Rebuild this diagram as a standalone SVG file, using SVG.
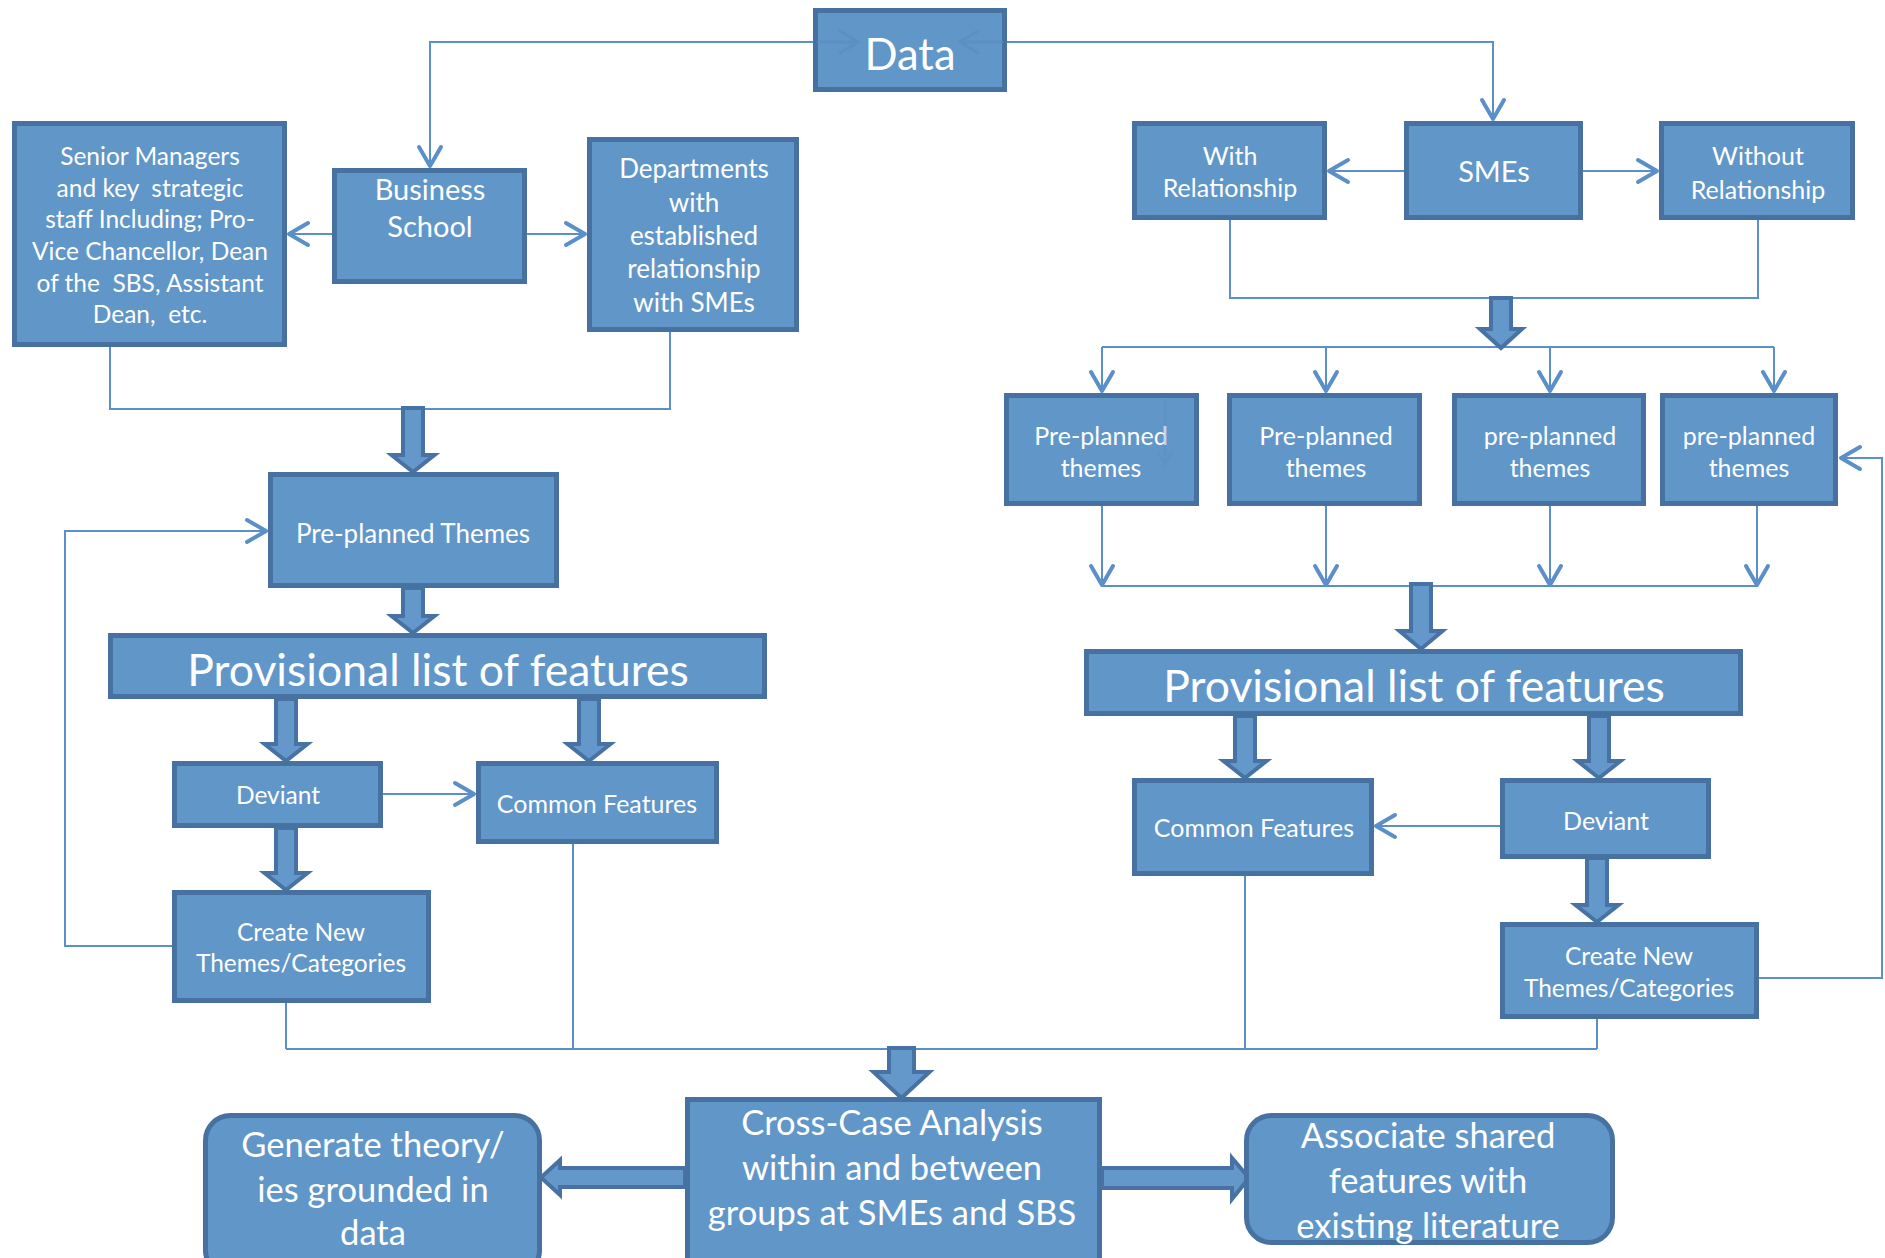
<svg xmlns="http://www.w3.org/2000/svg" width="1885" height="1258" viewBox="0 0 1885 1258">
<defs>
<style>
.box{fill:#6196C9;stroke:#4771A0;stroke-width:5}
.t{fill:#ffffff;font-family:Lato,"Open Sans","Liberation Sans",sans-serif;text-anchor:middle;white-space:pre}
.s24{font-size:24.5px}
.s25{font-size:25px}
.s26{font-size:26px}
.s29{font-size:29px}
.s34{font-size:34.5px}
.s43{font-size:43.5px}
.s44{font-size:44.5px}
.ln{fill:none;stroke:#5B8FC9;stroke-width:2}
.ba{fill:#6498CB;stroke:#4872A3;stroke-width:4;stroke-linejoin:miter}
.faint{fill:none;stroke:#5A8CC0;stroke-width:3;opacity:0.55;stroke-linecap:round}
</style>
<marker id="arr" viewBox="-24 -14 28 28" markerWidth="28" markerHeight="28" refX="0" refY="0" orient="auto" markerUnits="userSpaceOnUse">
<path d="M-19,-11 L0,0 L-19,11" fill="none" stroke="#5B8FC9" stroke-width="4" stroke-linecap="round" stroke-linejoin="round"/>
</marker>
</defs>
<rect width="1885" height="1258" fill="#ffffff"/>

<g id="connectors">
<path class="ln" d="M813,42 H430 V166" marker-end="url(#arr)"/>
<path class="ln" d="M1007,42 H1493 V119" marker-end="url(#arr)"/>
<path class="ln" d="M332,234 H289" marker-end="url(#arr)"/>
<path class="ln" d="M527,234 H585" marker-end="url(#arr)"/>
<path class="ln" d="M1404,171 H1329" marker-end="url(#arr)"/>
<path class="ln" d="M1583,171 H1657" marker-end="url(#arr)"/>
<path class="ln" d="M110,347 V409 H670 V332"/>
<path class="ln" d="M1230,220 V298 H1758 V220"/>
<path class="ln" d="M1102,347 H1774"/>
<path class="ln" d="M1102,347 V391" marker-end="url(#arr)"/>
<path class="ln" d="M1326,347 V391" marker-end="url(#arr)"/>
<path class="ln" d="M1550,347 V391" marker-end="url(#arr)"/>
<path class="ln" d="M1774,347 V391" marker-end="url(#arr)"/>
<path class="ln" d="M1102,506 V585" marker-end="url(#arr)"/>
<path class="ln" d="M1326,506 V585" marker-end="url(#arr)"/>
<path class="ln" d="M1550,506 V585" marker-end="url(#arr)"/>
<path class="ln" d="M1757,506 V585" marker-end="url(#arr)"/>
<path class="ln" d="M1102,586 H1757"/>
<path class="ln" d="M1500,826 H1376" marker-end="url(#arr)"/>
<path class="ln" d="M1759,978 H1882 V458 H1841" marker-end="url(#arr)"/>
<path class="ln" d="M383,794 H474" marker-end="url(#arr)"/>
<path class="ln" d="M172,946 H65 V531 H266" marker-end="url(#arr)"/>
<path class="ln" d="M286,1003 V1049"/>
<path class="ln" d="M573,844 V1049"/>
<path class="ln" d="M1245,876 V1049"/>
<path class="ln" d="M1597,1019 V1049"/>
<path class="ln" d="M286,1049 H1597"/>
<!-- block arrows -->
<polygon class="ba" points="403,408 423,408 423,455 434.5,455 413,472 391.5,455 403,455"/>
<polygon class="ba" points="403,588 423,588 423,616 434.5,616 413,633 391.5,616 403,616"/>
<polygon class="ba" points="276,699 296,699 296,744 307.5,744 286,761 264.5,744 276,744"/>
<polygon class="ba" points="579,699 599,699 599,744 610.5,744 589,761 567.5,744 579,744"/>
<polygon class="ba" points="276,828 296,828 296,873 307.5,873 286,890 264.5,873 276,873"/>
<polygon class="ba" points="1491,298 1511,298 1511,329 1522,329 1501,348 1480,329 1491,329"/>
<polygon class="ba" points="1411,584 1431,584 1431,631 1442.5,631 1421,649 1399.5,631 1411,631"/>
<polygon class="ba" points="1235,716 1255,716 1255,761 1266.5,761 1245,778 1223.5,761 1235,761"/>
<polygon class="ba" points="1589,716 1609,716 1609,761 1620.5,761 1599,778 1577.5,761 1589,761"/>
<polygon class="ba" points="1587,858 1607,858 1607,905 1618.5,905 1597,922 1575.5,905 1587,905"/>
<polygon class="ba" points="889,1048 914,1048 914,1072 929.5,1072 901.5,1098 873.5,1072 889,1072"/>
<polygon class="ba" points="685,1168 560,1168 560,1160 541,1177.5 560,1195 560,1187 685,1187"/>
<polygon class="ba" points="1102,1168 1232,1168 1232,1158 1249,1178 1232,1199 1232,1188 1102,1188"/>
</g>

<g id="data">
<rect class="box" x="815.5" y="10.5" width="189" height="79"/>
<path class="faint" d="M818,42 H858 M840,31 L858,42 L840,53"/>
<path class="faint" d="M1002,42 H960 M978,31 L960,42 L978,53"/>
<text class="t s43" x="910" y="70">Data</text>
</g>

<g id="senior-managers">
<rect class="box" x="14.5" y="123.5" width="270" height="221"/>
<text class="t s24" x="150" y="165">Senior Managers</text>
<text class="t s24" x="150" y="197">and key  strategic</text>
<text class="t s24" x="150" y="228">staff Including; Pro-</text>
<text class="t s24" x="150" y="260">Vice Chancellor, Dean</text>
<text class="t s24" x="150" y="292">of the  SBS, Assistant</text>
<text class="t s24" x="150" y="323">Dean,  etc.</text>
</g>

<g id="business-school">
<rect class="box" x="334.5" y="170.5" width="190" height="111"/>
<text class="t s29" x="430" y="200">Business</text>
<text class="t s29" x="430" y="237">School</text>
</g>

<g id="departments">
<rect class="box" x="589.5" y="139.5" width="207" height="190"/>
<text class="t s26" x="694" y="178">Departments</text>
<text class="t s26" x="694" y="212">with</text>
<text class="t s26" x="694" y="245">established</text>
<text class="t s26" x="694" y="278">relationship</text>
<text class="t s26" x="694" y="312">with SMEs</text>
</g>

<g id="with-relationship">
<rect class="box" x="1134.5" y="123.5" width="190" height="94"/>
<text class="t s25" x="1230" y="165">With</text>
<text class="t s25" x="1230" y="197">Relationship</text>
</g>

<g id="smes">
<rect class="box" x="1406.5" y="123.5" width="174" height="94"/>
<text class="t s29" x="1494" y="182">SMEs</text>
</g>

<g id="without-relationship">
<rect class="box" x="1661.5" y="123.5" width="191" height="94"/>
<text class="t s25" x="1758" y="165">Without</text>
<text class="t s25" x="1758" y="199">Relationship</text>
</g>

<g id="themes-1">
<rect class="box" x="1006.5" y="395.5" width="190" height="108"/>
<text class="t s25" x="1101" y="445">Pre-planned</text>
<text class="t s25" x="1101" y="477">themes</text>
<path class="faint" d="M1165,400 V465 M1158,452 L1165,465 L1172,452" style="opacity:0.35;stroke-width:2"/>
</g>

<g id="themes-2">
<rect class="box" x="1229.5" y="395.5" width="190" height="108"/>
<text class="t s25" x="1326" y="445">Pre-planned</text>
<text class="t s25" x="1326" y="477">themes</text>
</g>

<g id="themes-3">
<rect class="box" x="1454.5" y="395.5" width="189" height="108"/>
<text class="t s25" x="1550" y="445">pre-planned</text>
<text class="t s25" x="1550" y="477">themes</text>
</g>

<g id="themes-4">
<rect class="box" x="1662.5" y="395.5" width="173" height="108"/>
<text class="t s25" x="1749" y="445">pre-planned</text>
<text class="t s25" x="1749" y="477">themes</text>
</g>

<g id="provisional-right">
<rect class="box" x="1086.5" y="651.5" width="654" height="62"/>
<text class="t s44" x="1414" y="702">Provisional list of features</text>
</g>

<g id="common-right">
<rect class="box" x="1134.5" y="780.5" width="237" height="93"/>
<text class="t s25" x="1254" y="837">Common Features</text>
</g>

<g id="deviant-right">
<rect class="box" x="1502.5" y="780.5" width="206" height="76"/>
<text class="t s25" x="1606" y="830">Deviant</text>
</g>

<g id="create-right">
<rect class="box" x="1502.5" y="924.5" width="254" height="92"/>
<text class="t s24" x="1629" y="965">Create New</text>
<text class="t s24" x="1629" y="997">Themes/Categories</text>
</g>

<g id="preplanned-left">
<rect class="box" x="270.5" y="474.5" width="286" height="111"/>
<text class="t s26" x="413" y="543">Pre-planned Themes</text>
</g>

<g id="provisional-left">
<rect class="box" x="110.5" y="635.5" width="654" height="61"/>
<text class="t s44" x="438" y="686">Provisional list of features</text>
</g>

<g id="deviant-left">
<rect class="box" x="174.5" y="763.5" width="206" height="62"/>
<text class="t s24" x="278" y="804">Deviant</text>
</g>

<g id="common-left">
<rect class="box" x="478.5" y="763.5" width="238" height="78"/>
<text class="t s25" x="597" y="813">Common Features</text>
</g>

<g id="create-left">
<rect class="box" x="174.5" y="892.5" width="254" height="108"/>
<text class="t s24" x="301" y="941">Create New</text>
<text class="t s24" x="301" y="972">Themes/Categories</text>
</g>

<g id="cross-case">
<rect class="box" x="687.5" y="1099.5" width="412" height="170"/>
<text class="t s34" x="892" y="1135">Cross-Case Analysis</text>
<text class="t s34" x="892" y="1180">within and between</text>
<text class="t s34" x="892" y="1225">groups at SMEs and SBS</text>
</g>

<g id="generate-theory">
<rect class="box" x="205.5" y="1115.5" width="334" height="160" rx="25"/>
<text class="t s34" x="373" y="1157">Generate theory/</text>
<text class="t s34" x="373" y="1202">ies grounded in</text>
<text class="t s34" x="373" y="1245">data</text>
</g>

<g id="associate">
<rect class="box" x="1246.5" y="1115.5" width="366" height="127" rx="25"/>
<text class="t s34" x="1428" y="1148">Associate shared</text>
<text class="t s34" x="1428" y="1193">features with</text>
<text class="t s34" x="1428" y="1238">existing literature</text>
</g>
</svg>
